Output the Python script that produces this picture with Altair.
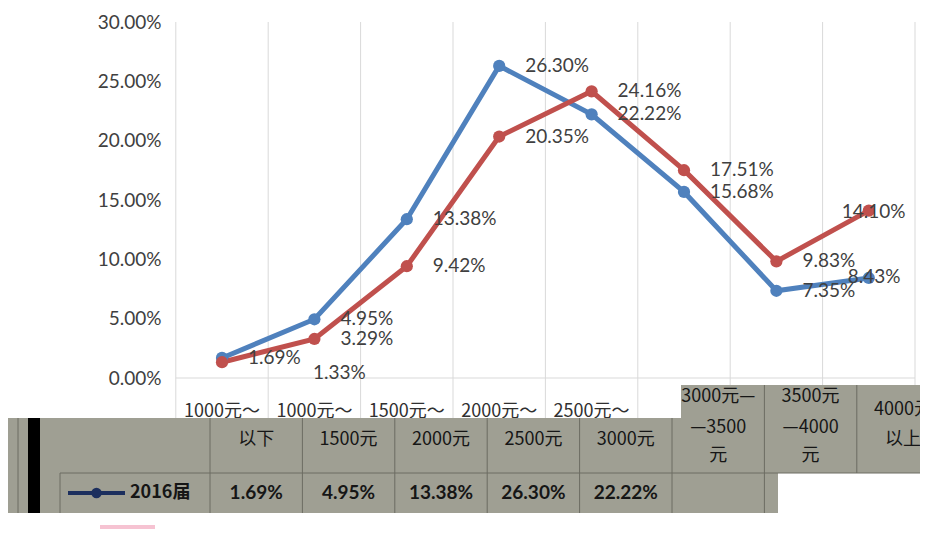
import altair as alt
import pandas as pd

# ---------------- data ----------------
categories = ["1000元以下", "1000元～1500元", "1500元～2000元", "2000元～2500元",
              "2500元～3000元", "3000元～3500元", "3500元～4000元", "4000元以上"]
series_names = ["2016届", "2017届"]
values_2016 = [0.0169, 0.0495, 0.1338, 0.2630, 0.2222, 0.1568, 0.0735, 0.0843]
values_2017 = [0.0133, 0.0329, 0.0942, 0.2035, 0.2416, 0.1751, 0.0983, 0.1410]
y_tick_values = [0.0, 0.05, 0.10, 0.15, 0.20, 0.25, 0.30]
axis_first_lines = ["1000元～", "1000元～", "1500元～", "2000元～", "2500元～"]
header_lines = [["以下"], ["1500元"], ["2000元"], ["2500元"], ["3000元"],
                ["3000元—", "—3500", "元"], ["3500元", "—4000", "元"], ["4000元", "以上"]]
table_values_shown = 5   # cells of the 2016届 row that are legible
series_colors = ["#4F81BD", "#C0504D"]

# ---------------- geometry (page px -> scale units) ----------------
W, H = 912, 544
CAT0_PX, CAT_STEP = 222.0, 92.4
ZERO_PY, TOP_PY, TOP_VAL = 378.0, 22.0, 0.30
PX_PER_VAL = (ZERO_PY - TOP_PY) / TOP_VAL


def u(px):
    return (px - CAT0_PX) / CAT_STEP


def v(py):
    return (ZERO_PY - py) / PX_PER_VAL


XD = [u(8), u(8 + W)]
YD = [v(8 + H), v(8)]
xs = alt.Scale(domain=XD, nice=False, zero=False)
ys = alt.Scale(domain=YD, nice=False, zero=False)

LABEL_FONT = "Lato"
CJK_FONT = "Noto Sans CJK SC"
GRID = "#d9d9d9"
TABLE_BG = "#9f9f93"
TABLE_LINE = "#6c6c62"

yaxis = alt.Axis(values=y_tick_values, format=".2%", orient="left", offset=-(177 - 8),
                 domain=False, ticks=False, grid=False, labelPadding=16, labelFontSize=19,
                 labelFont=LABEL_FONT, labelColor="#404040", labelOverlap=False, title=None)


def XQ(field):
    return alt.X(field, scale=xs, axis=None)


def YQ(field):
    return alt.Y(field, scale=ys, axis=yaxis)


# ---------------- series data ----------------
rows = []
for s, vals in zip(series_names, [values_2016, values_2017]):
    for i, (c, val) in enumerate(zip(categories, vals)):
        rows.append(dict(series=s, cat=c, i=i, val=val))
df = pd.DataFrame(rows)

color = alt.Color("series:N", scale=alt.Scale(domain=series_names, range=series_colors), legend=None)

# ---------------- rules: grid + table lines ----------------
rule_rows = []
for k in range(len(categories) + 1):
    rule_rows.append(dict(x=k - 0.5, x2=k - 0.5, y=TOP_VAL, y2=v(418), c=GRID, w=1))
rule_rows.append(dict(x=-0.5, x2=len(categories) - 0.5, y=0, y2=0, c=GRID, w=1))

col_edges_px = [210 + CAT_STEP * k for k in range(len(categories))]
for k, px in enumerate(col_edges_px):
    top = 385 if k >= 6 else 418
    bot = 513 if k <= 6 else 473
    rule_rows.append(dict(x=u(px), x2=u(px), y=v(top), y2=v(bot), c=TABLE_LINE, w=1))
rule_rows.append(dict(x=u(60), x2=u(8 + W), y=v(473), y2=v(473), c=TABLE_LINE, w=1))
rule_rows.append(dict(x=u(60), x2=u(60), y=v(473), y2=v(513), c=TABLE_LINE, w=1))
rule_rows.append(dict(x=u(18), x2=u(18), y=v(418), y2=v(513), c=TABLE_LINE, w=1))
rules_df = pd.DataFrame(rule_rows)

rect_rows = [
    dict(x=u(8), x2=u(8 + W), y=v(418), y2=v(473), c=TABLE_BG),
    dict(x=u(681), x2=u(8 + W), y=v(385), y2=v(418), c=TABLE_BG),
    dict(x=u(8), x2=u(778), y=v(473), y2=v(513), c=TABLE_BG),
    dict(x=u(28), x2=u(40), y=v(418), y2=v(513), c="#000000"),
]
rects_df = pd.DataFrame(rect_rows)


def rules_layer(d):
    return alt.Chart(d).mark_rule().encode(
        x=XQ("x:Q"), x2="x2:Q", y=YQ("y:Q"), y2="y2:Q",
        color=alt.Color("c:N", scale=None), strokeWidth=alt.StrokeWidth("w:Q", scale=None))


grid_layer = rules_layer(rules_df[rules_df.c == GRID])
table_lines = rules_layer(rules_df[rules_df.c != GRID])

rect_layer = alt.Chart(rects_df).mark_rect().encode(
    x=XQ("x:Q"), x2="x2:Q", y=YQ("y:Q"), y2="y2:Q", color=alt.Color("c:N", scale=None))

# ---------------- axis first lines (partly hidden by table) ----------------
axis_df = pd.DataFrame(dict(x=list(range(len(axis_first_lines))), t=axis_first_lines,
                            y=[v(412)] * len(axis_first_lines)))
axis_text = alt.Chart(axis_df).mark_text(font=CJK_FONT, fontSize=18, color="#303030",
                                          baseline="middle").encode(
    x=XQ("x:Q"), y=YQ("y:Q"), text="t:N")

# ---------------- series ----------------
line = alt.Chart(df).mark_line(strokeWidth=5).encode(
    x=XQ("i:Q"), y=YQ("val:Q"), color=color, detail="series:N")
pts = alt.Chart(df).mark_circle(size=150, opacity=1).encode(
    x=XQ("i:Q"), y=YQ("val:Q"), color=color)


def labels(filter_expr, dx, dy=0):
    return alt.Chart(df).transform_filter(filter_expr).mark_text(
        align="left", baseline="middle", dx=dx, dy=dy, font=LABEL_FONT, fontSize=19,
        color="#404040").encode(
        x=XQ("i:Q"), y=YQ("val:Q"), text=alt.Text("val:Q", format=".2%"))


exc = ("(datum.series=='2017届' && (datum.i==0 || datum.i==7)) || "
       "(datum.series=='2016届' && datum.i==7)")
lab_main = labels("!(" + exc + ")", 26)
lab_a = labels("datum.series=='2017届' && datum.i==0", 91, 11)
lab_b = labels("datum.series=='2017届' && datum.i==7", -27, 1)
lab_c = labels("datum.series=='2016届' && datum.i==7", -21, -1)

# ---------------- table texts ----------------
shift = u(256.2)
line_py = {1: [440], 2: [410, 440], 3: [397, 428, 456]}
hdr_rows = []
for i, lines in enumerate(header_lines):
    for t, py in zip(lines, line_py[len(lines)]):
        hdr_rows.append(dict(x=i + shift, y=v(py), t=t))
hdr_df = pd.DataFrame(hdr_rows)
hdr_text = alt.Chart(hdr_df).mark_text(font=CJK_FONT, fontSize=18, color="#161616",
                                        baseline="middle").encode(
    x=XQ("x:Q"), y=YQ("y:Q"), text="t:N")

val_df = pd.DataFrame(dict(x=[i + shift for i in range(table_values_shown)],
                           y=[v(493)] * table_values_shown,
                           val=values_2016[:table_values_shown]))
val_text = alt.Chart(val_df).mark_text(font=LABEL_FONT, fontSize=19, fontWeight="bold",
                                        color="#161616", baseline="middle").encode(
    x=XQ("x:Q"), y=YQ("y:Q"), text=alt.Text("val:Q", format=".2%"))

leg_df = pd.DataFrame(dict(series=series_names,
                           x=[u(68), u(100)], x2=[u(125), u(155)],
                           y=[v(493), v(527)], c=["#1c2f5e", "#f6c3d2"]))
leg_lines = alt.Chart(leg_df).mark_rule(strokeWidth=4).encode(
    x=XQ("x:Q"), x2="x2:Q", y=YQ("y:Q"), color=alt.Color("c:N", scale=None))
leg_pt = alt.Chart(leg_df.iloc[[0]]).transform_calculate(
    xm="(datum.x + datum.x2) / 2").mark_circle(size=110, opacity=1, color="#1c2f5e").encode(
    x=XQ("xm:Q"), y=YQ("y:Q"))
leg_text = alt.Chart(leg_df.iloc[[0]]).mark_text(
    align="left", baseline="middle", dx=5, font=CJK_FONT, fontSize=18, fontWeight="bold",
    color="#161616").encode(
    x=XQ("x2:Q"), y=YQ("y:Q"), text="series:N")

chart = alt.layer(
    grid_layer, axis_text, line, pts, lab_main, lab_a, lab_b, lab_c,
    rect_layer, table_lines, hdr_text, val_text, leg_lines, leg_pt, leg_text
).properties(
    width=W, height=H, autosize=alt.AutoSizeParams(type="none"), padding=0
).configure_view(stroke=None)

chart.save("out.html", embed_options={"renderer": "svg", "actions": False})
